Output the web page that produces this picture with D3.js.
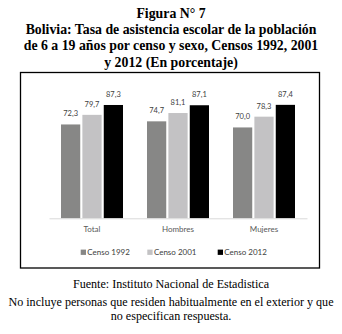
<!DOCTYPE html>
<html>
<head>
<meta charset="utf-8">
<script src="https://cdn.jsdelivr.net/npm/d3@7/dist/d3.min.js"></script>
<style>
  html, body { margin: 0; padding: 0; background: #fff; }
  svg { display: block; }
</style>
</head>
<body>
<script>
// Tasa de asistencia escolar, población de 6 a 19 años
const categories = ["Total", "Hombres", "Mujeres"];
const seriesNames = ["Censo 1992", "Censo 2001", "Censo 2012"];
const censo1992 = [72.3, 74.7, 70.0];
const censo2001 = [79.7, 81.1, 78.3];
const censo2012 = [87.3, 87.1, 87.4];
const seriesValues = [censo1992, censo2001, censo2012];
const seriesColors = ["#878786", "#c3c2c4", "#000000"];

const titleLines = [
  "Figura N° 7",
  "Bolivia: Tasa de asistencia escolar de la población",
  "de 6 a 19 años por censo y sexo, Censos 1992, 2001",
  "y 2012 (En porcentaje)"
];
const footLines = [
  "Fuente: Instituto Nacional de Estadistica",
  "No incluye personas que residen habitualmente en el exterior y que",
  "no especifican respuesta."
];

const W = 342, H = 334;
const svg = d3.select("body").append("svg").attr("width", W).attr("height", H);

// Title
svg.append("g").selectAll("text").data(titleLines).join("text")
  .attr("x", 171).attr("y", (d, i) => 17.6 + i * 16.4)
  .attr("text-anchor", "middle")
  .style("font-family", "'Liberation Serif', 'Times New Roman', serif")
  .style("font-weight", "bold").style("font-size", "13.8px").style("fill", "#000")
  .text(d => d);

// Chart frame
svg.append("rect").attr("x", 20.5).attr("y", 72.5).attr("width", 299).attr("height", 195.5)
  .attr("fill", "none").attr("stroke", "#000").attr("stroke-width", 1.3);

// Scales
const x0 = d3.scaleBand().domain(categories).range([49, 307]).paddingInner(0).paddingOuter(0);
const x1 = d3.scaleBand().domain(seriesNames).range([12, 74]).paddingInner(0.1);
const y = d3.scaleLinear().domain([0, 100]).range([218.3, 88.5]);

const groups = svg.append("g").selectAll("g").data(categories).join("g")
  .attr("transform", d => `translate(${x0(d)},0)`);

const cells = groups.selectAll("g.cell")
  .data((c, ci) => seriesNames.map((s, si) => ({ s, si, v: seriesValues[si][ci] })))
  .join("g").attr("class", "cell");

cells.append("rect")
  .attr("x", d => x1(d.s)).attr("width", x1.bandwidth())
  .attr("y", d => y(d.v)).attr("height", d => y(0) - y(d.v))
  .attr("fill", d => seriesColors[d.si]);

cells.append("text")
  .attr("x", d => x1(d.s) + x1.bandwidth() / 2)
  .attr("y", d => y(d.v) - 8)
  .attr("text-anchor", "middle")
  .style("font-family", "Lato, 'Open Sans', sans-serif")
  .style("font-size", "7.5px").style("fill", "#404040")
  .text(d => d3.format(".1f")(d.v).replace(".", ","));

// Category axis
const xAxis = svg.append("g").attr("transform", `translate(0,${y(0)})`)
  .call(d3.axisBottom(x0).tickSize(0).tickPadding(8));
xAxis.select(".domain").attr("stroke", "#d9d9d9").attr("stroke-width", 1);
xAxis.selectAll("text")
  .style("font-family", "Lato, 'Open Sans', sans-serif")
  .style("font-size", "8px").style("fill", "#595959");

// Legend
const legendX = [80.7, 147.3, 217.7];
const legend = svg.append("g").selectAll("g").data(seriesNames).join("g")
  .attr("transform", (d, i) => `translate(${legendX[i]},252.3)`);
legend.append("rect").attr("x", 0).attr("y", -2.7).attr("width", 5.3).attr("height", 5.3)
  .attr("fill", (d, i) => seriesColors[i]);
legend.append("text").attr("x", 6.6).attr("y", 2.9)
  .style("font-family", "Lato, 'Open Sans', sans-serif")
  .style("font-size", "8px").style("fill", "#404040")
  .text(d => d);

// Footnotes
svg.append("g").selectAll("text").data(footLines).join("text")
  .attr("x", 171).attr("y", (d, i) => [288, 306, 319.5][i])
  .attr("text-anchor", "middle")
  .style("font-family", "'Liberation Serif', 'Times New Roman', serif")
  .style("font-size", "12.1px").style("fill", "#000")
  .text(d => d);
</script>
</body>
</html>
